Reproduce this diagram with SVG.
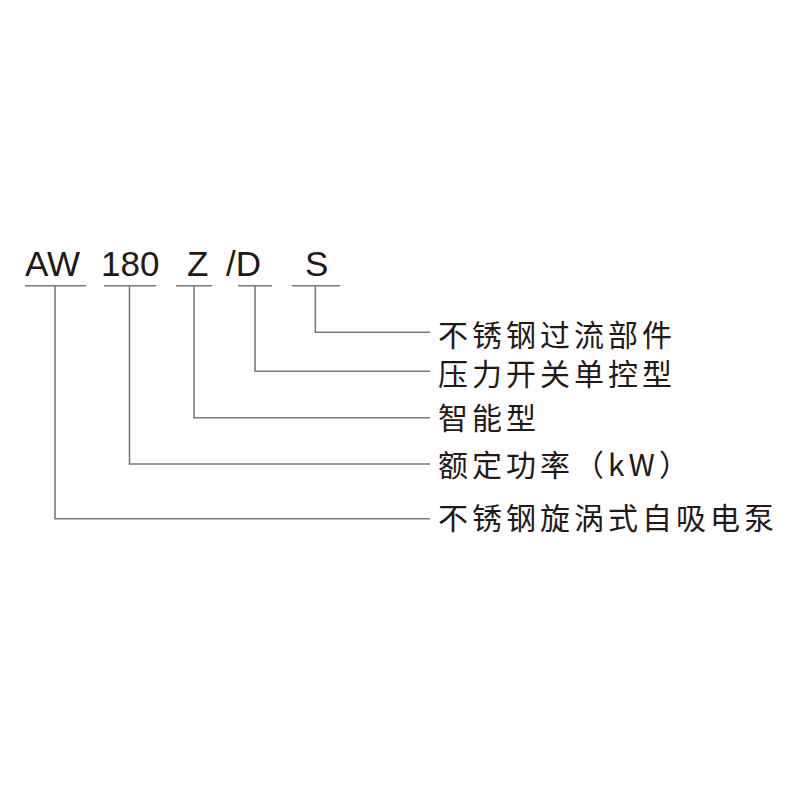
<svg xmlns="http://www.w3.org/2000/svg" width="800" height="800" viewBox="0 0 800 800">
<style>
.code{font-family:"Liberation Sans",Arial,sans-serif;font-size:35px;fill:#231815}
.lbl{font-family:"Noto Sans CJK SC","Noto Sans",sans-serif;font-size:30px;letter-spacing:4px;fill:#231815}
.ln{stroke:#7a7a7a;stroke-width:1.6;fill:none}
</style>
<rect width="800" height="800" fill="#ffffff"/>
<g id="code">
<g id="code-AW"><text class="code" x="25" y="276">AW</text></g>
<g id="code-180"><text class="code" x="101" y="276">180</text></g>
<g id="code-Z"><text class="code" x="187" y="276">Z</text></g>
<g id="code-D"><text class="code" x="226" y="276">/D</text></g>
<g id="code-S"><text class="code" x="305" y="276">S</text></g>
</g>
<g id="connectors">
<line class="ln" x1="25" y1="285.7" x2="86" y2="285.7"/>
<line class="ln" x1="104" y1="285.7" x2="156" y2="285.7"/>
<line class="ln" x1="176" y1="285.7" x2="212" y2="285.7"/>
<line class="ln" x1="238" y1="285.7" x2="272" y2="285.7"/>
<line class="ln" x1="292" y1="285.7" x2="340" y2="285.7"/>
<polyline class="ln" points="315.3,285.7 315.3,332.3 430,332.3"/>
<polyline class="ln" points="255,285.7 255,371.3 430,371.3"/>
<polyline class="ln" points="194,285.7 194,417.7 430,417.7"/>
<polyline class="ln" points="129.5,285.7 129.5,464 430,464"/>
<polyline class="ln" points="55,285.7 55,518.7 430,518.7"/>
</g>
<g id="label-S"><text class="lbl" x="438" y="346">不锈钢过流部件</text></g>
<g id="label-D"><text class="lbl" x="438" y="385">压力开关单控型</text></g>
<g id="label-Z"><text class="lbl" x="438" y="429">智能型</text></g>
<g id="label-180"><text class="lbl" x="438" y="476">额定功率（kW）</text></g>
<g id="label-AW"><text class="lbl" x="438" y="529">不锈钢旋涡式自吸电泵</text></g>
</svg>
